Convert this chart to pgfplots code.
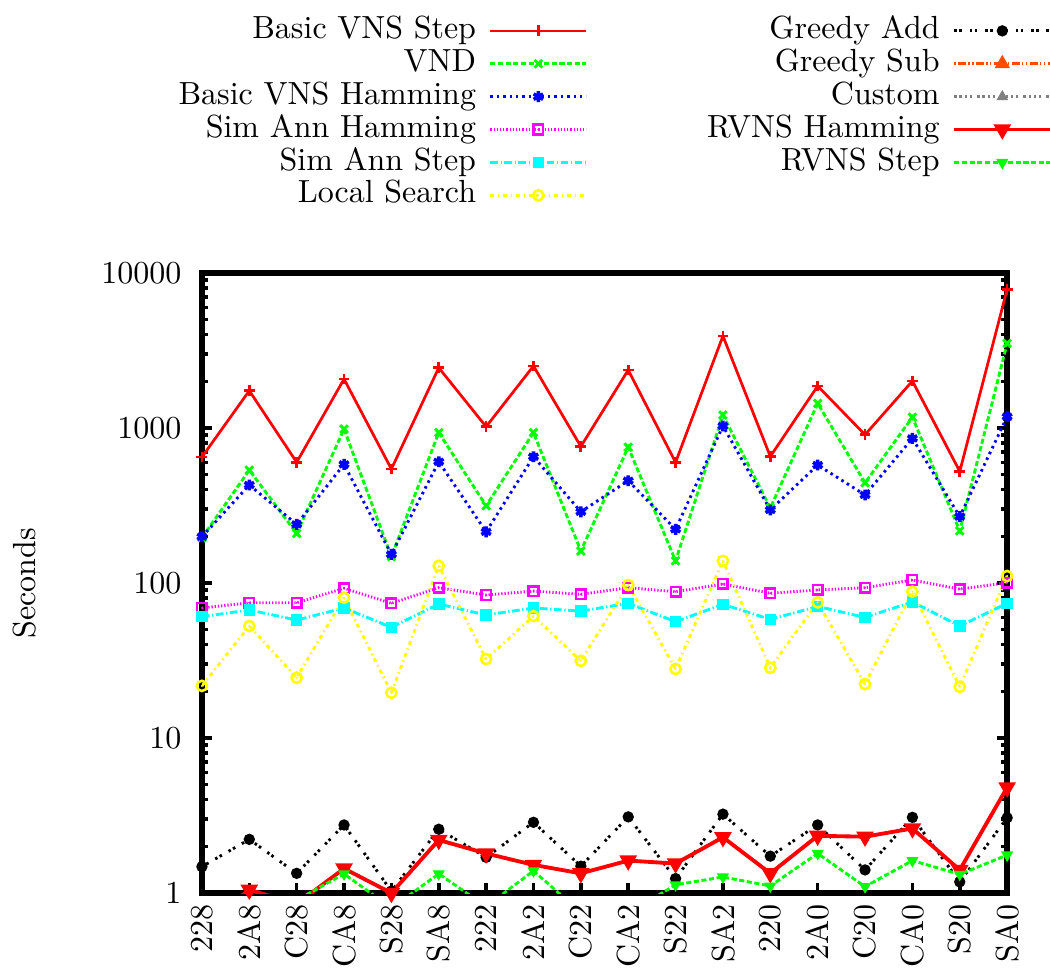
\documentclass[border=0pt]{standalone}
\usepackage{pgfplots}
\usepackage{pgfplotstable}
\pgfplotsset{compat=1.18}

% gnuplot postscript line-type colours
\definecolor{lt0}{rgb}{1,0,0}
\definecolor{lt1}{rgb}{0,1,0}
\definecolor{lt2}{rgb}{0,0,1}
\definecolor{lt3}{rgb}{1,0,1}
\definecolor{lt4}{rgb}{0,1,1}
\definecolor{lt5}{rgb}{1,1,0}
\definecolor{lt6}{rgb}{0,0,0}
\definecolor{lt7}{rgb}{1,0.3,0}
\definecolor{lt8}{rgb}{0.5,0.5,0.5}

% open marks with a centre dot
\pgfdeclareplotmark{dotsquare}{%
  \pgfpathrectangle{\pgfpoint{-\pgfplotmarksize}{-\pgfplotmarksize}}{\pgfpoint{2\pgfplotmarksize}{2\pgfplotmarksize}}%
  \pgfusepathqstroke
  \pgfpathcircle{\pgfpointorigin}{0.35pt}\pgfusepathqfill}
\pgfdeclareplotmark{dotcircle}{%
  \pgfpathcircle{\pgfpointorigin}{\pgfplotmarksize}\pgfusepathqstroke
  \pgfpathcircle{\pgfpointorigin}{0.35pt}\pgfusepathqfill}

\pgfplotsset{
  s bvs/.style={color=lt0, solid, line width=0.85pt, mark=+, mark size=1.7pt, mark options={solid}},
  s vnd/.style={color=lt1, dash pattern=on 1.6pt off 0.8pt, line width=0.9pt, mark=x, mark size=1.7pt, mark options={solid}},
  s bvh/.style={color=lt2, dash pattern=on 0.8pt off 1.2pt, line width=0.9pt, mark=asterisk, mark size=1.7pt, mark options={solid, line width=1.1pt}},
  s sah/.style={color=lt3, dash pattern=on 0.4pt off 0.6pt, line width=0.9pt, mark=dotsquare, mark size=1.5pt, mark options={solid, line width=0.8pt}},
  s sas/.style={color=lt4, dash pattern=on 2.4pt off 0.8pt on 0.4pt off 0.8pt, line width=0.9pt, mark=square*, mark size=1.35pt, mark options={solid}},
  s ls/.style={color=lt5, dash pattern=on 1.2pt off 1.2pt on 0.4pt off 1.2pt, line width=0.9pt, mark=dotcircle, mark size=1.6pt, mark options={solid, line width=0.8pt}},
  s ga/.style={color=lt6, dash pattern=on 0.8pt off 0.8pt on 0.8pt off 2.4pt, line width=0.9pt, mark=*, mark size=1.3pt, mark options={solid}},
  s gs/.style={color=lt7, dash pattern=on 0.4pt off 0.8pt on 2.4pt off 0.8pt on 0.4pt off 0.8pt, line width=0.9pt, mark=triangle*, mark size=1.9pt, mark options={solid}},
  s cu/.style={color=lt8, dash pattern=on 0.8pt off 0.8pt on 0.8pt off 0.8pt on 0.8pt off 0.8pt on 0.8pt off 1.6pt, line width=0.9pt, mark=triangle*, mark size=1.2pt, mark options={solid}},
  s rh/.style={color=lt0, solid, line width=1.2pt, mark=triangle*, mark size=2pt, mark options={solid, rotate=180}},
  s rs/.style={color=lt1, dash pattern=on 1.6pt off 0.8pt, line width=0.9pt, mark=triangle*, mark size=1.3pt, mark options={solid, rotate=180}},
}

% run times in seconds, one row per instance
\pgfplotstableread{
x   bvs   vnd   bvh   sah    sas   ls    ga    rh    rs
0   650   196   199   69     60.7  21.7  1.48  0.6   0.7
1   1741  535   429   74.6   67    52.8  2.22  1.05  0.75
2   601   209   239   74.6   57.7  24.5  1.34  0.85  0.9
3   2070  985   583   92.5   69    80.4  2.75  1.44  1.33
4   544   148   153   74     51.8  19.6  1.03  1.0   0.8
5   2448  935   606   93.3   73.2  129   2.58  2.2   1.33
6   1020  315   214   83.7   62.2  32.3  1.70  1.80  0.82
7   2513  935   653   88.7   69    61.2  2.86  1.52  1.39
8   760   161   288   84.6   65.9  31.5  1.49  1.34  0.75
9   2366  752   457   93.3   74    97    3.10  1.62  0.74
10  600   139   222   87.9   56.3  27.9  1.24  1.55  1.13
11  3925  1213  1031  98.6   72.9  139   3.23  2.29  1.27
12  655   305   296   85.9   58.3  28.4  1.73  1.34  1.11
13  1866  1442  577   90.2   70.6  75    2.75  2.34  1.80
14  905   443   370   93.3   60    22.3  1.41  2.31  1.10
15  2010  1175  857   104.6  75.5  87.9  3.08  2.61  1.62
16  525   217   268   91.4   52.8  21.4  1.18  1.41  1.32
17  7850  3517  1183  100.5  74    111   3.06  4.8   1.76
}\runtimes

\begin{document}
\begin{tikzpicture}
\begin{axis}[
  scale only axis,
  width=251.6pt, height=193.75pt,
  ymode=log, ymin=1, ymax=10000,
  log ticks with fixed point,
  /pgf/number format/set thousands separator={},
  xmin=0, xmax=17,
  xtick={0,...,17},
  xticklabels={228,2A8,C28,CA8,S28,SA8,222,2A2,C22,CA2,S22,SA2,220,2A0,C20,CA0,S20,SA0},
  xtick pos=left,
  x tick label style={rotate=90, anchor=east},
  yticklabel style={xshift=-2.9pt},
  ylabel={Seconds},
  ylabel style={at={(axis description cs:0,0.5)}, anchor=center, yshift=55.3pt},
  axis line style={line width=1.7pt},
  every tick/.style={black, line width=1.1pt},
  major tick length=3.2pt, minor tick length=1.8pt,
  legend columns=2,
  legend cell align=right,
  legend plot pos=right,
  legend image code/.code={\draw[mark repeat=2,mark phase=2] plot coordinates {(0pt,0pt) (15pt,0pt) (30pt,0pt)};},
  legend style={draw=none, fill=none, inner xsep=0pt, inner ysep=0pt,
    at={(axis description cs:0,1)}, anchor=north west, xshift=-7.5pt, yshift=81pt,
    column sep=4pt, row sep=0pt, /tikz/column 2/.style={column sep=37.3pt},
    nodes={inner xsep=0pt, inner ysep=0.5pt, text height=7pt, text depth=2.28pt}},
]
\coordinate (O) at (rel axis cs:0,0);

\addplot[s bvs, forget plot] table[x=x, y=bvs] {\runtimes};
\addplot[s vnd, forget plot] table[x=x, y=vnd] {\runtimes};
\addplot[s bvh, forget plot] table[x=x, y=bvh] {\runtimes};
\addplot[s sah, forget plot] table[x=x, y=sah] {\runtimes};
\addplot[s sas, forget plot] table[x=x, y=sas] {\runtimes};
\addplot[s ls,  forget plot] table[x=x, y=ls]  {\runtimes};
\addplot[s ga,  forget plot] table[x=x, y=ga]  {\runtimes};
\addplot[s rh,  forget plot] table[x=x, y=rh]  {\runtimes};
\addplot[s rs,  forget plot] table[x=x, y=rs]  {\runtimes};

% legend, filled column by column
\addlegendimage{s bvs}\addlegendentry{Basic VNS Step}
\addlegendimage{s ga}\addlegendentry{Greedy Add}
\addlegendimage{s vnd}\addlegendentry{VND}
\addlegendimage{s gs}\addlegendentry{Greedy Sub}
\addlegendimage{s bvh}\addlegendentry{Basic VNS Hamming}
\addlegendimage{s cu}\addlegendentry{Custom}
\addlegendimage{s sah}\addlegendentry{Sim Ann Hamming}
\addlegendimage{s rh}\addlegendentry{RVNS Hamming}
\addlegendimage{s sas}\addlegendentry{Sim Ann Step}
\addlegendimage{s rs}\addlegendentry{RVNS Step}
\addlegendimage{s ls}\addlegendentry{Local Search}
\end{axis}
\pgfresetboundingbox
\useasboundingbox ([shift={(-63.1pt,-24.7pt)}]O) rectangle ++(328.1pt,303.75pt);
\end{tikzpicture}
\end{document}
